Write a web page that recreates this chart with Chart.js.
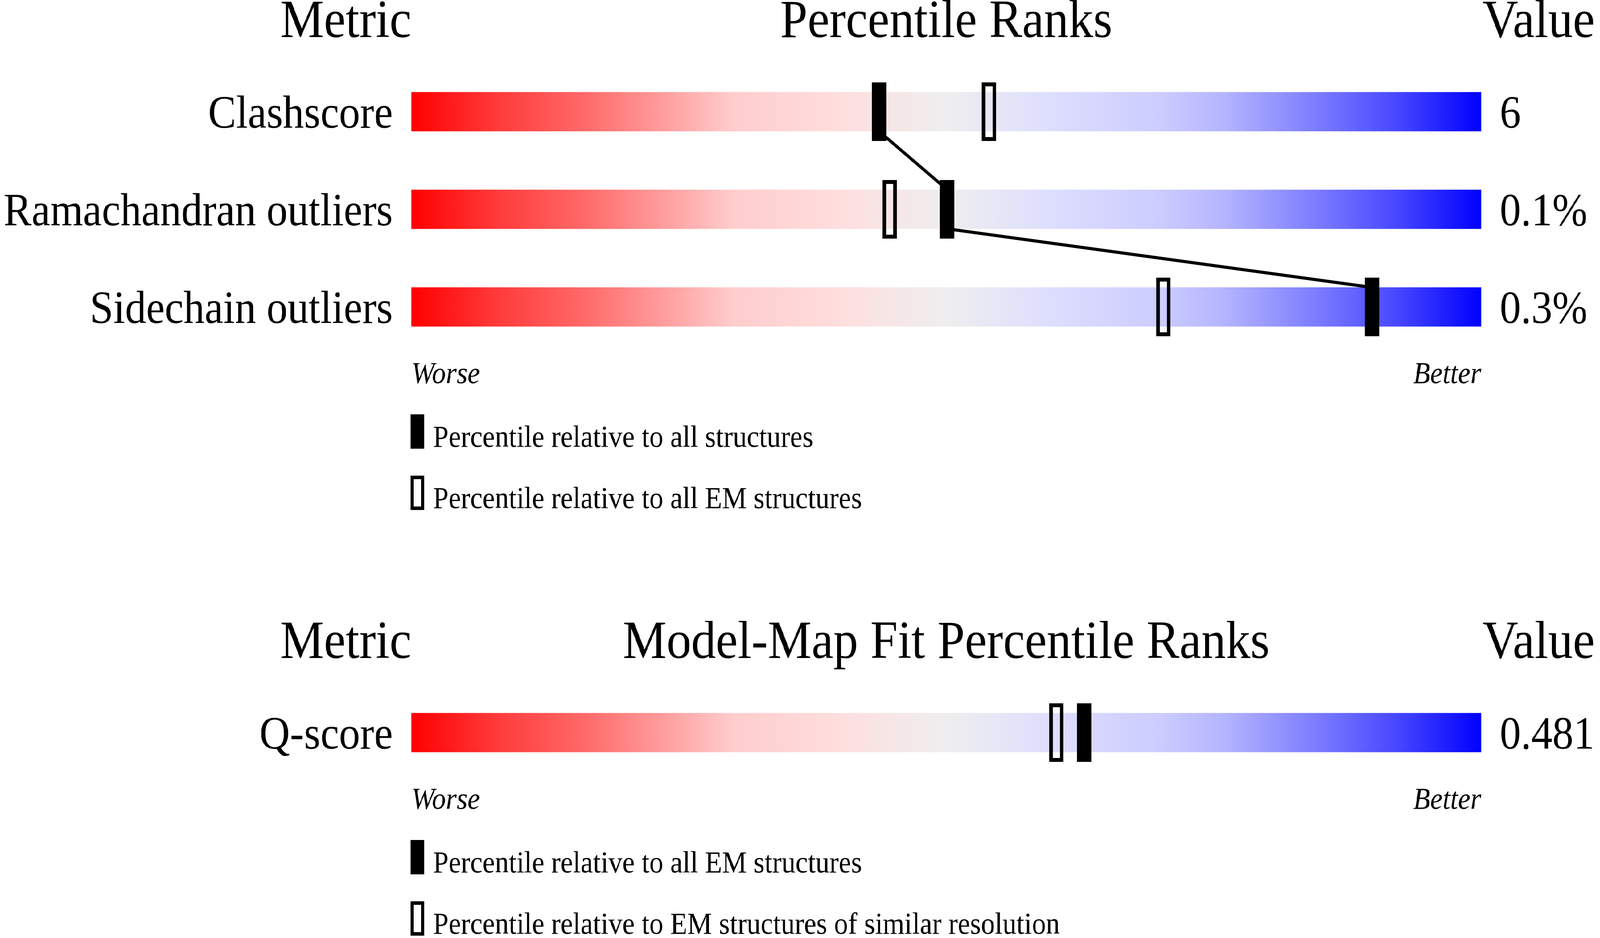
<!DOCTYPE html>
<html>
<head>
<meta charset="utf-8">
<title>Percentile ranks</title>
<script src="https://cdn.jsdelivr.net/npm/chart.js@4.4.1/dist/chart.umd.min.js"></script>
<style>
  html, body { margin: 0; padding: 0; background: #fff; overflow: hidden; }
  #viewport { position: fixed; left: 0; top: 0; width: 100vw; height: 100vh; overflow: hidden; background: #fff; }
  #stage { width: 4485px; height: 2402px; transform-origin: 0 0; }
  .panel { position: relative; width: 4485px; }
  #geom-panel { height: 1590px; }
  #fit-panel { height: 812px; }
</style>
</head>
<body>
<div id="viewport">
  <div id="stage">
    <div class="panel" id="geom-panel"><canvas id="geom-chart"></canvas></div>
    <div class="panel" id="fit-panel"><canvas id="fit-chart"></canvas></div>
  </div>
</div>
<script>
/* ===============================
   DATA
================================= */
const HEADER_METRIC = "Metric";
const HEADER_VALUE = "Value";
const SCALE_ENDS = ["Worse", "Better"];
const SCALE_MIN = 0;
const SCALE_MAX = 100;

const GEOM_TITLE = "Percentile Ranks";
const GEOM_METRICS = ["Clashscore", "Ramachandran outliers", "Sidechain outliers"];
const GEOM_VALUES = ["6", "0.1%", "0.3%"];
const GEOM_PCT_ALL = [43.7, 50.1, 89.8]; // filled markers
const GEOM_PCT_EM = [54.0, 44.7, 70.3];  // open markers
const GEOM_LEGEND = [
  "Percentile relative to all structures",
  "Percentile relative to all EM structures",
];

const FIT_TITLE = "Model-Map Fit Percentile Ranks";
const FIT_METRICS = ["Q-score"];
const FIT_VALUES = ["0.481"];
const FIT_PCT_EM = [62.9];  // filled markers
const FIT_PCT_RES = [60.3]; // open markers
const FIT_LEGEND = [
  "Percentile relative to all EM structures",
  "Percentile relative to EM structures of similar resolution",
];

/* ===============================
   STYLE
================================= */
const PAGE_W = 4485;
const PAGE_H = 2402;
const FONT_FAMILY = "'Liberation Serif', 'Times New Roman', serif";
const ROW_PX = 250;
const BAR_PX = 100;
const LEFT_W = 1153;
const RIGHT_W = 333;
const GRADIENT_STOPS = [0, 0.08, 0.16, 0.24, 0.30, 0.40, 0.50, 0.60, 0.70, 0.76, 0.84, 0.92, 1];
const GRADIENT_COLORS = [
  "#ff0000", "#ff3a3a", "#ff6868", "#ffa0a0", "#ffcccc", "#ffdede", "#eeeeee",
  "#ddddff", "#ccccff", "#b4b4ff", "#8080ff", "#4848ff", "#0000ff",
];

Chart.defaults.font.family = FONT_FAMILY;
Chart.defaults.color = "#000";

// the window may be narrower than the drawing: stretch the stage to fill it
const stage = document.getElementById("stage");
const fitX = window.innerWidth / PAGE_W;
const fitY = window.innerHeight / PAGE_H;
if (Math.abs(fitX - 1) > 0.001 || Math.abs(fitY - 1) > 0.001) {
  stage.style.transform = `scale(${fitX}, ${fitY})`;
}

/* ===============================
   HELPERS
================================= */
function makeMarker(w, h, border, filled) {
  const c = document.createElement("canvas");
  c.width = w;
  c.height = h;
  const g = c.getContext("2d");
  g.fillStyle = "#000";
  g.strokeStyle = "#000";
  if (filled) {
    g.fillRect(0, 0, w, h);
  } else {
    g.lineWidth = border;
    g.strokeRect(border / 2, border / 2, w - border, h - border);
  }
  return c;
}

const filledMarker = makeMarker(40, 150, 10, true);
const openMarker = makeMarker(40, 150, 10, false);
const legendIcons = [makeMarker(38, 88, 9, true), makeMarker(38, 88, 9, false)];

function sliderGradient(context) {
  const chart = context.chart;
  const xs = chart.scales.x;
  if (!chart.chartArea || !xs) return GRADIENT_COLORS[0];
  const x0 = xs.getPixelForValue(SCALE_MIN);
  const x1 = xs.getPixelForValue(SCALE_MAX);
  const g = chart.ctx.createLinearGradient(x0, 0, x1, 0);
  GRADIENT_STOPS.forEach((s, i) => g.addColorStop(s, GRADIENT_COLORS[i]));
  return g;
}

/* ===============================
   SLIDER CHART
================================= */
function buildSlider(canvasId, title, metrics, values, pctFilled, pctOpen, legendTexts, padBottom) {
  const rows = metrics.map((_, i) => i);
  const half = BAR_PX / 2 / ROW_PX;

  // connector runs from bar bottom at one filled marker to bar top at the next
  const connector = [];
  rows.forEach(i => {
    connector.push({ x: pctFilled[i], y: i - half }, { x: pctFilled[i], y: i + half });
  });

  const decorations = {
    id: "decorations",
    afterDraw(chart) {
      const { ctx, chartArea } = chart;
      ctx.save();
      ctx.fillStyle = "#000";
      ctx.textBaseline = "alphabetic";

      // column headers
      ctx.font = `138px ${FONT_FAMILY}`;
      const hy = chartArea.top - 66;
      ctx.textAlign = "right";
      ctx.fillText(HEADER_METRIC, chartArea.left, hy);
      ctx.textAlign = "center";
      ctx.fillText(title, (chartArea.left + chartArea.right) / 2, hy);
      ctx.textAlign = "left";
      ctx.fillText(HEADER_VALUE, chartArea.right + 4, hy);

      // legend
      ctx.font = `78px ${FONT_FAMILY}`;
      legendTexts.forEach((t, k) => {
        const top = chartArea.bottom + 150 + k * 157;
        ctx.drawImage(legendIcons[k], chartArea.left - 2, top);
        ctx.fillText(t, chartArea.left + 61, top + 83);
      });
      ctx.restore();
    },
  };

  const rowAxis = (labels, width, position) => ({
    type: "linear",
    position: position,
    reverse: true,
    min: -0.5,
    max: rows.length - 0.5,
    offset: false,
    grid: { display: false, drawTicks: false, offset: false },
    border: { display: false },
    afterBuildTicks: s => { s.ticks = rows.map(i => ({ value: i })); },
    afterFit: s => { s.width = width; },
    ticks: {
      padding: 52,
      labelOffset: 10,
      autoSkip: false,
      font: { size: 118 },
      color: "#000",
      callback: v => labels[v],
    },
  });

  return new Chart(document.getElementById(canvasId), {
    type: "bar",
    data: {
      datasets: [
        {
          type: "bar",
          data: rows.map(i => ({ x: [SCALE_MIN, SCALE_MAX], y: i })),
          backgroundColor: sliderGradient,
          borderWidth: 0,
          barThickness: BAR_PX,
          order: 3,
        },
        {
          type: "line",
          data: connector,
          borderColor: "#000",
          borderWidth: 8,
          pointRadius: 0,
          fill: false,
          tension: 0,
          order: 2,
        },
        {
          type: "scatter",
          data: rows.map(i => ({ x: pctOpen[i], y: i })),
          pointStyle: openMarker,
          order: 1,
        },
        {
          type: "scatter",
          data: rows.map(i => ({ x: pctFilled[i], y: i })),
          pointStyle: filledMarker,
          order: 0,
        },
      ],
    },
    options: {
      indexAxis: "y",
      responsive: true,
      maintainAspectRatio: false,
      devicePixelRatio: 1,
      animation: false,
      events: [],
      layout: { padding: { top: 161, bottom: padBottom, left: 0, right: 0 } },
      plugins: {
        legend: { display: false },
        tooltip: { enabled: false },
        title: { display: false },
      },
      scales: {
        x: {
          type: "linear",
          position: "bottom",
          min: SCALE_MIN,
          max: SCALE_MAX,
          grid: { display: false, drawTicks: false },
          border: { display: false },
          afterBuildTicks: s => { s.ticks = [{ value: SCALE_MIN }, { value: SCALE_MAX }]; },
          afterFit: s => { s.height = 100; },
          ticks: {
            align: "inner",
            padding: 3,
            maxRotation: 0,
            autoSkip: false,
            font: { size: 78, style: "italic" },
            color: "#000",
            callback: v => (v === SCALE_MIN ? SCALE_ENDS[0] : SCALE_ENDS[1]),
          },
        },
        y: rowAxis(metrics, LEFT_W, "left"),
        yValue: rowAxis(values, RIGHT_W, "right"),
      },
    },
    plugins: [decorations],
  });
}

/* ===============================
   START
================================= */
buildSlider("geom-chart", GEOM_TITLE, GEOM_METRICS, GEOM_VALUES,
  GEOM_PCT_ALL, GEOM_PCT_EM, GEOM_LEGEND, 579);
buildSlider("fit-chart", FIT_TITLE, FIT_METRICS, FIT_VALUES,
  FIT_PCT_EM, FIT_PCT_RES, FIT_LEGEND, 301);
</script>
</body>
</html>
